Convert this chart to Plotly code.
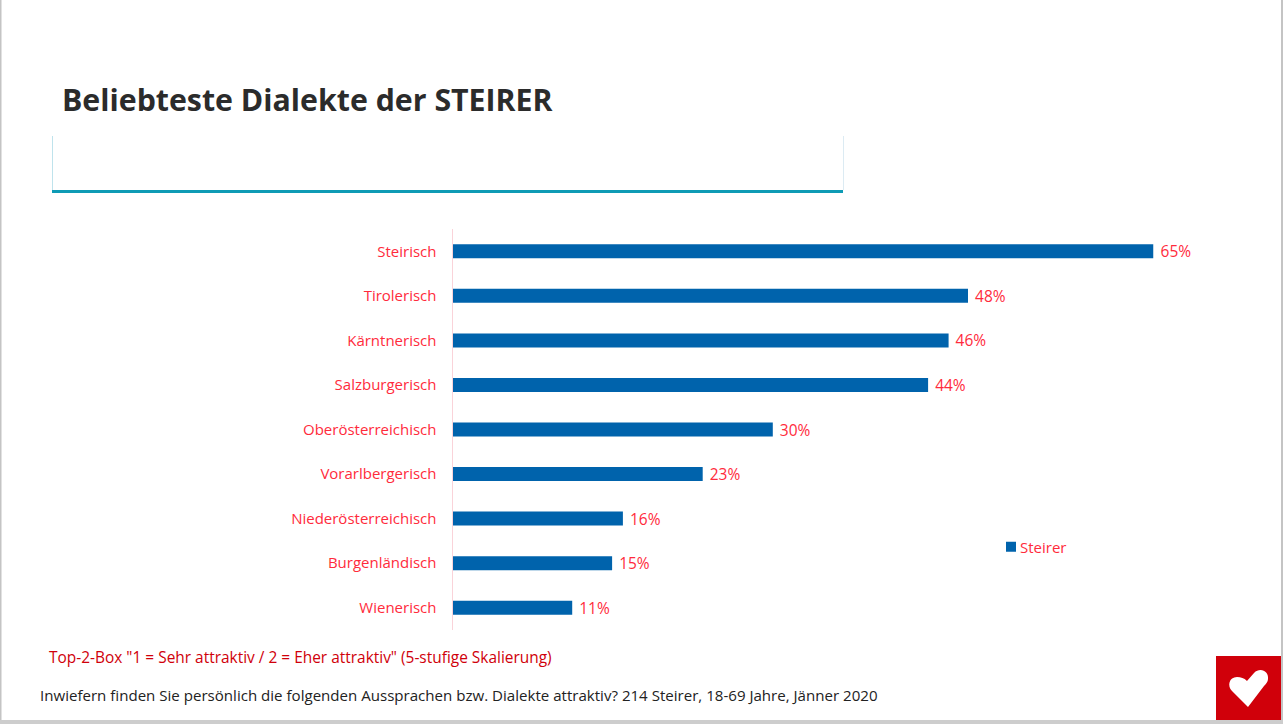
import plotly.graph_objects as go

categories = ["Steirisch", "Tirolerisch", "Kärntnerisch", "Salzburgerisch", "Oberösterreichisch",
              "Vorarlbergerisch", "Niederösterreichisch", "Burgenländisch", "Wienerisch"]
values = [65, 47.8, 46, 44.1, 29.7, 23.2, 15.8, 14.8, 11.1]
series_name = "Steirer"
title_text = "Beliebteste Dialekte der STEIRER"
note_text = 'Top-2-Box "1 = Sehr attraktiv / 2 = Eher attraktiv" (5-stufige Skalierung)'
source_text = "Inwiefern finden Sie persönlich die folgenden Aussprachen bzw. Dialekte attraktiv? 214 Steirer, 18-69 Jahre, Jänner 2020"

W, H = 1283, 724
FONT = "Open Sans"
RED = "#FF2B3C"
px = lambda v: v / W
py = lambda v: 1 - v / H


def rect(x0, y0, x1, y1, color):
    return dict(type="rect", xref="paper", yref="paper", x0=px(x0), x1=px(x1), y0=py(y0), y1=py(y1),
                fillcolor=color, line=dict(width=0), layer="below")


def P(x, y):
    return f"{px(x):.5f},{py(y):.5f}"


heart = ("M" + P(1248, 707) + " L" + P(1232, 691) + " C" + P(1227, 686) + " " + P(1229, 677) + " " + P(1237, 677)
         + " C" + P(1241, 677) + " " + P(1244, 678) + " " + P(1247, 681) + " L" + P(1254, 673)
         + " C" + P(1260, 667) + " " + P(1269, 671) + " " + P(1268, 679) + " C" + P(1268, 682) + " " + P(1266, 684) + " " + P(1264, 686) + " Z")

shapes = [
    rect(0, 0, 1.5, 724, "#C4C4C4"),
    rect(1281, 0, 1283, 724, "#C4C4C4"),
    rect(0, 720, 1283, 724, "#CDCDCD"),
    rect(52, 136, 53, 190, "#BFE3EC"),
    rect(843, 136, 844, 190, "#DCEBF3"),
    rect(52, 190, 843, 193, "#0E9BB5"),
    rect(1216, 656, 1281, 720, "#D0000A"),
    dict(type="path", xref="paper", yref="paper", path=heart, fillcolor="white", line=dict(width=0), layer="above"),
]


def txt(x, y, text, size, color, weight=400):
    return dict(xref="paper", yref="paper", x=px(x), y=py(y), text=text, showarrow=False, xanchor="left",
                yanchor="middle", align="left", font=dict(family=FONT, size=size, color=color, weight=weight))


fig = go.Figure(go.Bar(
    y=categories, x=values, orientation="h", name=series_name, showlegend=True,
    marker=dict(color="#0063AC", line=dict(width=0)),
    text=[f"\u00a0{v:.0f}%" for v in values], textposition="outside", cliponaxis=False, constraintext="none",
    textfont=dict(family=FONT, size=15.5, color=RED),
))

fig.update_layout(
    width=W, height=H, margin=dict(l=0, r=0, t=0, b=0), autosize=False,
    paper_bgcolor="white", plot_bgcolor="white", bargap=0.686,
    font=dict(family=FONT, size=15, color=RED),
    xaxis=dict(domain=[px(452.5), px(1153.5)], range=[0, 65], visible=False, fixedrange=True),
    yaxis=dict(domain=[py(630), py(229)], autorange="reversed", showline=True, linecolor="#FAD3D9", linewidth=1,
               ticks="", tickfont=dict(family=FONT, size=15, color=RED), ticklabelstandoff=12, showgrid=False, fixedrange=True),
    legend=dict(x=px(991), y=py(547), xanchor="left", yanchor="middle", bgcolor="rgba(0,0,0,0)",
                font=dict(family=FONT, size=15, color=RED), itemwidth=30),
    shapes=shapes,
    annotations=[
        txt(60, 100, title_text, 30.3, "#2B2B2B", 700),
        txt(47, 657, note_text, 15.45, "#D0000A"),
        txt(38, 695, source_text, 15.08, "#222222"),
    ],
)

post = """
document.body.style.margin='0';
var t=document.querySelector('.legendtext');
if(t){t.setAttribute('x', parseFloat(t.getAttribute('x'))-11);}
var s=document.querySelector('.legendpoints path');
if(s){s.setAttribute('d','M5,5H-5V-5H5Z');}
"""
fig.write_html("out.html", post_script=post, config={"displayModeBar": False})
